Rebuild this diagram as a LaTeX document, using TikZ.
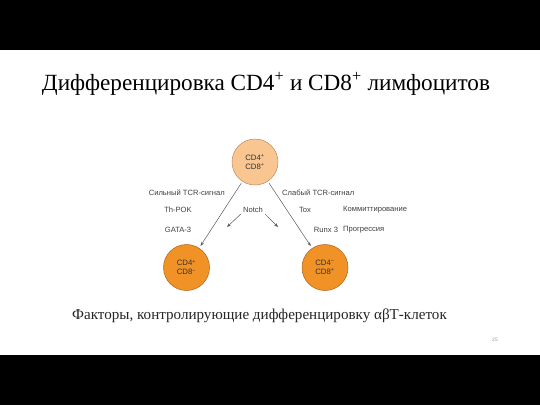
\documentclass[tikz,border=0pt]{standalone}
\usepackage{fontspec}
\usetikzlibrary{arrows.meta}
\setmainfont{Liberation Serif}
\newfontfamily\lsans{Liberation Sans}
\begin{document}
\begin{tikzpicture}[x=1pt,y=-1pt,
  lbl/.style={font=\lsans\fontsize{7.6}{8.6}\selectfont, text=black!75, inner sep=0pt},
  cellA/.style={circle, minimum size=46pt, inner sep=0pt, fill={rgb,255:red,249;green,198;blue,146}, draw={rgb,255:red,190;green,140;blue,95}, line width=0.5pt, font=\lsans\fontsize{7.8}{9}\selectfont, text=black!80, align=center},
  cellB/.style={cellA, fill={rgb,255:red,241;green,146;blue,38}, draw={rgb,255:red,170;green,100;blue,30}},
  arr/.style={-{Stealth[length=4pt,width=3pt]}, draw=black!65, line width=0.5pt}]
\useasboundingbox (0,0) rectangle (540,405);
\fill[white] (0,0) rectangle (540,405);
\fill[black] (0,0) rectangle (540,50);
\fill[black] (0,355) rectangle (540,405);
\node[font=\fontsize{23.2}{27}\selectfont] (title) at (266,84) {Дифференцировка CD4\textsuperscript{+} и CD8\textsuperscript{+} лимфоцитов};
\node[font=\fontsize{15.1}{18}\selectfont, text=black!85] (sub) at (259.5,316) {Факторы, контролирующие дифференцировку αβТ-клеток};
\node[font=\lsans\fontsize{5}{6}\selectfont, text=black!40] (pg) at (495,340) {25};
\node[cellA] (top) at (255,162) {CD4\textsuperscript{+}\\CD8\textsuperscript{+}};
\node[cellB] (bl) at (186.5,267.5) {CD4\textsuperscript{+}\\CD8\textsuperscript{−}};
\node[cellB] (br) at (325,267.5) {CD4\textsuperscript{−}\\CD8\textsuperscript{+}};
\node[lbl, anchor=east] (s1) at (225,193) {Сильный TCR-сигнал};
\node[lbl] (thpok) at (178,210) {Th-POK};
\node[lbl] (gata) at (178,230) {GATA-3};
\node[lbl] (notch) at (253,210) {Notch};
\node[lbl, anchor=west] (s2) at (282,193) {Слабый TCR-сигнал};
\node[lbl] (tox) at (305,210) {Tox};
\node[lbl, anchor=west] (komm) at (343,210) {Коммиттирование};
\node[lbl] (runx) at (326,230) {Runx 3};
\node[lbl, anchor=west] (prog) at (343,230) {Прогрессия};
\draw[arr, shorten <=2pt, shorten >=2.5pt] (top) -- (bl);
\draw[arr, shorten <=2pt, shorten >=2.5pt] (top) -- (br);
\coordinate (nl) at (227,227);
\coordinate (nr) at (278,227);
\draw[arr] (notch.south west) ++(-2,1) -- (nl);
\draw[arr] (notch.south east) ++(2,1) -- (nr);
\end{tikzpicture}
\end{document}
